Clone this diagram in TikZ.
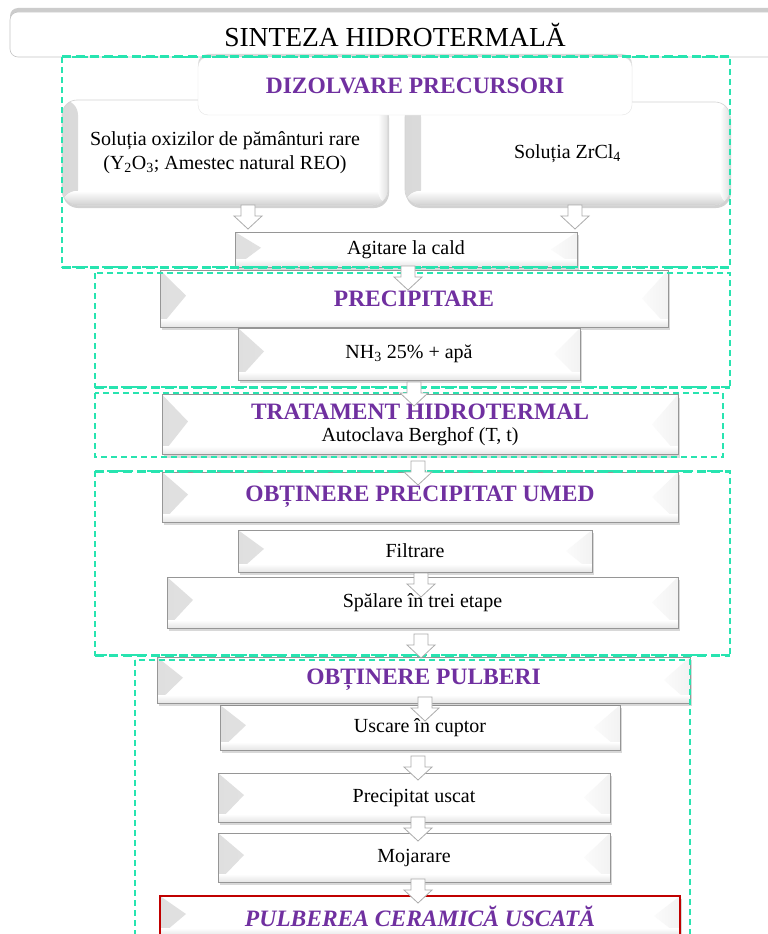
\documentclass[tikz,border=0pt]{standalone}
\usepackage{fontspec}
\setmainfont{Liberation Serif}
\usetikzlibrary{shadows,calc}
\definecolor{dashc}{RGB}{40,228,176}
\definecolor{hdr}{RGB}{112,48,160}
\definecolor{redb}{RGB}{192,0,0}
\definecolor{edgec}{RGB}{150,150,150}
\begin{document}
\begin{tikzpicture}[x=1pt,y=-1pt,
  bodyfont/.style={font=\fontsize{20}{24}\selectfont},
  hdrfont/.style={font=\fontsize{23.5}{27}\selectfont\bfseries, text=hdr},
  bevelpp/.style={path picture={
     \fill[left color=gray!25, right color=gray!3] (path picture bounding box.north west) -- ($(path picture bounding box.north west)!0.45!(path picture bounding box.south west)+(26,0)$) -- (path picture bounding box.south west) -- cycle;
     \fill[left color=gray!3, right color=gray!10] (path picture bounding box.north east) -- ($(path picture bounding box.north east)!0.5!(path picture bounding box.south east)+(-26,0)$) -- (path picture bounding box.south east) -- cycle;
     \fill[top color=white, bottom color=gray!20] ($(path picture bounding box.south west)+(0,-8)$) rectangle (path picture bounding box.south east);
  }},
  bevelbox/.style={draw=edgec, fill=white, line width=0.9pt, inner sep=0pt, align=center,
     drop shadow={opacity=0.3, shadow xshift=2pt, shadow yshift=-3pt}, bevelpp},
  softpp/.style={path picture={
     \fill[left color=gray!30, right color=white] (path picture bounding box.north west) rectangle ($(path picture bounding box.south west)+(16,0)$);
     \fill[top color=white, bottom color=gray!35] ($(path picture bounding box.south west)+(0,-14)$) rectangle (path picture bounding box.south east);
     \fill[left color=white, right color=gray!25] ($(path picture bounding box.north east)+(-10,0)$) rectangle (path picture bounding box.south east);
  }},
  softbox/.style={draw=gray!35, fill=white, rounded corners=15pt, line width=0.6pt, inner sep=0pt, align=center,
     drop shadow={opacity=0.35, shadow xshift=1pt, shadow yshift=-3pt}, softpp, bodyfont},
  thinD/.style={draw=dashc, line width=1.3pt, dash pattern=on 6pt off 4pt},
  thickD/.style={draw=dashc, line width=3pt, dash pattern=on 9pt off 5pt},
  arrowstyle/.style={draw=gray!65, fill=white, line width=0.8pt, line join=miter},
  darrow/.pic={\draw[arrowstyle] (-7,0) -- (7,0) -- (7,11) -- (14,11) -- (0,24) -- (-14,11) -- (-7,11) -- cycle;}
]
\clip (0,0) rectangle (768,934);
\fill[white] (0,0) rectangle (768,934);

% title
\node[draw=gray!45, fill=white, rounded corners=8pt, line width=0.6pt, minimum width=770pt, minimum height=45pt, inner sep=0pt,
  drop shadow={opacity=0.4, shadow xshift=0pt, shadow yshift=4pt},
  font=\fontsize{27.5}{30}\selectfont] (title) at (395,34.5) {SINTEZA HIDROTERMALĂ};

% precursor solutions
\node[softbox, minimum width=326pt, minimum height=105pt] (solL) at (225,152.5)
  {Soluția oxizilor de pământuri rare\\(Y\textsubscript{2}O\textsubscript{3}; Amestec natural REO)};
\node[softbox, minimum width=325pt, minimum height=103pt] (solR) at (567.5,153.5)
  {Soluția ZrCl\textsubscript{4}};
\node[draw=gray!20, fill=white, rounded corners=10pt, minimum width=434pt, minimum height=58pt, inner sep=0pt,
  drop shadow={opacity=0.3, shadow xshift=0pt, shadow yshift=3pt}, hdrfont] (dz) at (415,86) {DIZOLVARE PRECURSORI};

\node[bevelbox, bodyfont, minimum width=342pt, minimum height=35pt] (agit) at (406,249.5) {Agitare la cald};
\node[bevelbox, hdrfont, minimum width=508pt, minimum height=57pt] (prec) at (414,298.5) {PRECIPITARE};
\node[bevelbox, bodyfont, minimum width=342pt, minimum height=52pt] (nh3) at (409,354) {NH\textsubscript{3} 25\% + apă};
\node[bevelbox, bodyfont, minimum width=516pt, minimum height=60pt] (trat) at (420,424.5)
  {{\fontsize{23.5}{24}\selectfont\bfseries\color{hdr}TRATAMENT HIDROTERMAL}\\[-2pt]Autoclava Berghof (T, t)};
\node[bevelbox, hdrfont, minimum width=516pt, minimum height=50pt] (umed) at (420,497) {OBȚINERE PRECIPITAT UMED};
\node[bevelbox, bodyfont, minimum width=354pt, minimum height=42pt] (filt) at (415,551) {Filtrare};
\node[bevelbox, bodyfont, minimum width=511pt, minimum height=51pt] (spal) at (422.5,602.5) {Spălare în trei etape};
\node[bevelbox, bodyfont, minimum width=400pt, minimum height=45pt] (usc) at (420,727.5) {Uscare în cuptor};
\node[bevelbox, hdrfont, minimum width=533pt, minimum height=46pt] (pulb) at (423.5,680) {OBȚINERE PULBERI};
\node[bevelbox, bodyfont, minimum width=392pt, minimum height=49pt] (pusc) at (414,797.5) {Precipitat uscat};
\node[bevelbox, bodyfont, minimum width=392pt, minimum height=49pt] (moj) at (414,857.5) {Mojarare};
\node[bevelbox, draw=redb, line width=1.2pt, minimum width=520pt, minimum height=40pt,
  font=\fontsize{23.5}{27}\selectfont\bfseries\itshape, text=hdr] (final) at (420,916) {PULBEREA CERAMICĂ USCATĂ};

% dashed group frames
\draw[thinD] (62,57) rectangle (730,267);
\draw[thickD] (62,57) -- (730,57);
\draw[thickD] (62,267) -- (730,267);
\draw[thinD] (95,273) rectangle (730,387);
\draw[thickD] (95,387) -- (730,387);
\draw[thinD] (95,393) rectangle (723,457);
\draw[thinD] (95,471) rectangle (730,655);
\draw[thickD] (95,471) -- (730,471);
\draw[thickD] (95,655) -- (730,655);
\draw[thinD] (135,660) rectangle (690,945);

% block arrows
\pic at (248,205) {darrow};
\pic at (575,205) {darrow};
\pic at (408,266) {darrow};
\pic at (414,382) {darrow};
\pic at (418,461) {darrow};
\pic at (421,573) {darrow};
\pic at (421,634) {darrow};
\pic at (425,697) {darrow};
\pic at (418,756) {darrow};
\pic at (418,817) {darrow};
\pic at (418,879) {darrow};
\end{tikzpicture}
\end{document}
